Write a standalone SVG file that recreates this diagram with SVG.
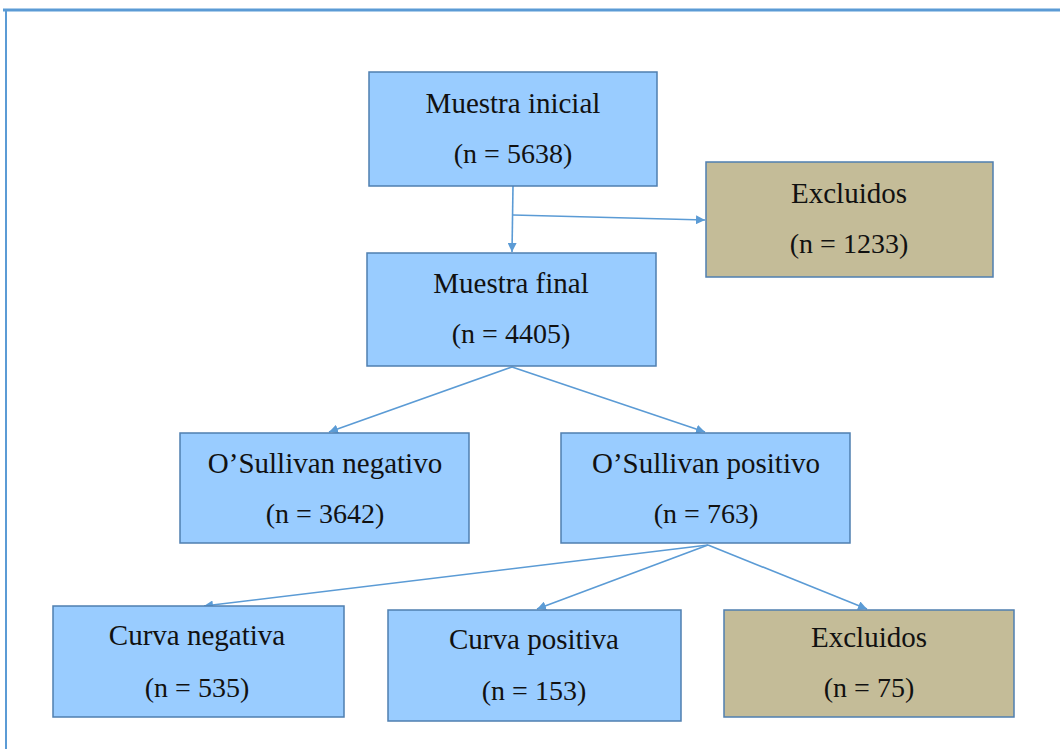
<svg xmlns="http://www.w3.org/2000/svg" width="1060" height="749" viewBox="0 0 1060 749">
<style>
.blue{fill:#99CCFF;stroke:#4F7FB0;stroke-width:1.5}
.tan{fill:#C4BC98;stroke:#4F7FB0;stroke-width:1.5}
text{font-family:"Liberation Serif","Times New Roman",serif;font-size:29px;fill:#111;text-anchor:middle}
.num{font-size:28px}
.conn line{stroke:#5B9BD5;stroke-width:1.6;fill:none}
</style>
<defs>
<marker id="ah" viewBox="0 0 10 10" refX="10" refY="5" markerWidth="9" markerHeight="9" orient="auto" markerUnits="userSpaceOnUse">
<path d="M0,0 L10,5 L0,10 z" fill="#5B9BD5"/>
</marker>
</defs>
<rect width="1060" height="749" fill="#fff"/>
<g id="frame">
<line x1="3" y1="10" x2="1060" y2="10" stroke="#5B9BD5" stroke-width="3"/>
<line x1="6" y1="10" x2="6" y2="749" stroke="#5B9BD5" stroke-width="2"/>
</g>
<g class="conn" id="connectors">
<line x1="513" y1="186" x2="512" y2="252" marker-end="url(#ah)"/>
<line x1="513" y1="215" x2="705" y2="220" marker-end="url(#ah)"/>
<line x1="512" y1="367" x2="329" y2="432" marker-end="url(#ah)"/>
<line x1="512" y1="367" x2="705" y2="432" marker-end="url(#ah)"/>
<line x1="708" y1="545" x2="204" y2="606" marker-end="url(#ah)"/>
<line x1="708" y1="545" x2="537" y2="609" marker-end="url(#ah)"/>
<line x1="708" y1="545" x2="867" y2="609" marker-end="url(#ah)"/>
</g>
<g id="n1"><rect class="blue" x="369" y="72" width="288" height="114"/><text x="513" y="113">Muestra inicial</text><text class="num" x="513" y="163">(n = 5638)</text></g>
<g id="n2"><rect class="tan" x="706" y="162" width="287" height="115"/><text x="849" y="203">Excluidos</text><text class="num" x="849" y="253">(n = 1233)</text></g>
<g id="n3"><rect class="blue" x="367" y="253" width="289" height="113"/><text x="511" y="293">Muestra final</text><text class="num" x="511" y="343">(n = 4405)</text></g>
<g id="n4"><rect class="blue" x="180" y="433" width="289" height="110"/><text x="325" y="473">O’Sullivan negativo</text><text class="num" x="325" y="523">(n = 3642)</text></g>
<g id="n5"><rect class="blue" x="561" y="433" width="289" height="110"/><text x="706" y="473">O’Sullivan positivo</text><text class="num" x="706" y="523">(n = 763)</text></g>
<g id="n6"><rect class="blue" x="53" y="606" width="291" height="111"/><text x="197" y="645">Curva negativa</text><text class="num" x="197" y="697">(n = 535)</text></g>
<g id="n7"><rect class="blue" x="388" y="610" width="293" height="111"/><text x="534" y="649">Curva positiva</text><text class="num" x="534" y="700">(n = 153)</text></g>
<g id="n8"><rect class="tan" x="724" y="610" width="290" height="107"/><text x="869" y="647">Excluidos</text><text class="num" x="869" y="697">(n = 75)</text></g>
</svg>
